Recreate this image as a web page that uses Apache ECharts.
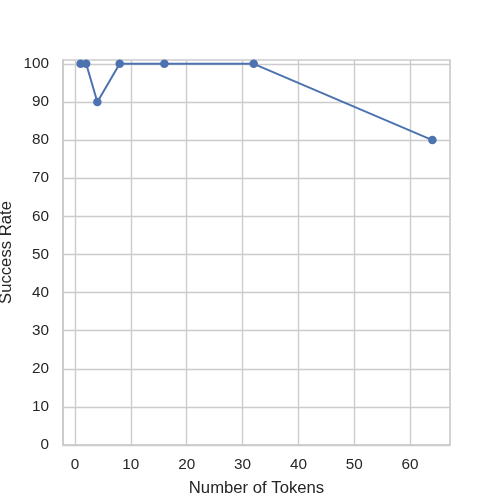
<!DOCTYPE html>
<html>
<head>
<meta charset="utf-8">
<script src="https://cdn.jsdelivr.net/npm/echarts@6/dist/echarts.min.js"></script>
<style>html,body{margin:0;padding:0;background:#fff}#c{width:500px;height:500px}</style>
</head>
<body>
<div id="c"></div>
<script>
var tokens = [1, 2, 4, 8, 16, 32, 64];
var successRate = [100, 100, 90, 100, 100, 100, 80];
var xTicks = [0, 10, 20, 30, 40, 50, 60];
var yTicks = [0, 10, 20, 30, 40, 50, 60, 70, 80, 90, 100];
var xName = 'Number of Tokens';
var yName = 'Success Rate';

var chart = echarts.init(document.getElementById('c'), null, {renderer: 'canvas'});
var font = 'Liberation Sans, Arial, sans-serif';
var txt = '#262626';
var gridCol = '#cccccc';
chart.setOption({
  animation: false,
  backgroundColor: '#ffffff',
  grid: {left: 63, right: 50, top: 60, bottom: 55, show: false, outerBoundsMode: 'none', containLabel: false},
  xAxis: {
    type: 'value',
    min: -2.15, max: 67.15,
    name: xName,
    nameLocation: 'middle',
    nameGap: 35,
    nameTextStyle: {color: txt, fontSize: 16.7, fontFamily: font},
    axisLine: {show: true, onZero: false, lineStyle: {color: gridCol, width: 1.7}},
    axisTick: {show: false, customValues: xTicks},
    axisLabel: {customValues: xTicks, color: txt, fontSize: 15.3, fontFamily: font, margin: 12},
    splitLine: {show: true, lineStyle: {color: gridCol, width: 1.4}}
  },
  yAxis: {
    type: 'value',
    min: 0, max: 101,
    axisLine: {show: true, onZero: false, lineStyle: {color: gridCol, width: 1.7}},
    axisTick: {show: false, customValues: yTicks},
    axisLabel: {customValues: yTicks, color: txt, fontSize: 15.3, fontFamily: font, margin: 14},
    splitLine: {show: true, lineStyle: {color: gridCol, width: 1.4}}
  },
  series: [{
    type: 'line',
    data: tokens.map(function (t, i) { return [t, successRate[i]]; }),
    symbol: 'circle',
    symbolSize: 8.5,
    itemStyle: {color: '#4c72b0'},
    lineStyle: {color: '#4c72b0', width: 2},
    clip: false
  }]
});
var p0 = chart.convertToPixel({gridIndex: 0}, [-2.15, 0]);
var p1 = chart.convertToPixel({gridIndex: 0}, [67.15, 101]);
chart.setOption({
  graphic: [{
    type: 'rect', silent: true, z: 0,
    shape: {x: p0[0], y: p1[1], width: p1[0] - p0[0], height: p0[1] - p1[1]},
    style: {fill: 'none', stroke: gridCol, lineWidth: 1.7}
  }, {
    type: 'text', silent: true,
    x: 6, y: (p0[1] + p1[1]) / 2, rotation: Math.PI / 2,
    style: {text: yName, fill: txt, fontSize: 16.7, fontFamily: font, align: 'center', verticalAlign: 'middle'}
  }]
});
</script>
</body>
</html>
